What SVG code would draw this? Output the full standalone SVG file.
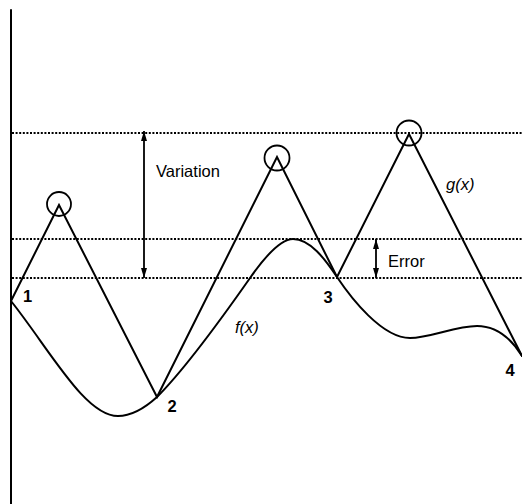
<svg xmlns="http://www.w3.org/2000/svg" width="522" height="504" viewBox="0 0 522 504">
<defs>
<style>
.ln{fill:none;stroke:#000;stroke-width:2;stroke-linejoin:miter;stroke-linecap:round}
.dot{fill:none;stroke:#000;stroke-width:2;stroke-dasharray:2 1.6}
.circ{fill:none;stroke:#000;stroke-width:1.8}
.lbl{font-family:"Liberation Sans",Arial,sans-serif;font-size:16.5px;fill:#000}
.it{font-style:italic}
.num{font-weight:bold}
.arr{fill:none;stroke:#000;stroke-width:1.8}
</style>
<marker id="ah" viewBox="0 0 10 6" refX="10" refY="3" markerWidth="10" markerHeight="6" markerUnits="userSpaceOnUse" orient="auto">
<path d="M0,0 L10,3 L0,6 Z" fill="#000"/>
</marker>
</defs>
<rect width="522" height="504" fill="#fff"/>
<g id="axis">
<line class="ln" x1="11" y1="10" x2="11" y2="504"/>
</g>
<g id="levels">
<line class="dot" x1="12" y1="133" x2="522" y2="133"/>
<line class="dot" x1="12" y1="239" x2="522" y2="239"/>
<line class="dot" x1="12" y1="278" x2="522" y2="278"/>
</g>
<g id="connectors">
<path id="g-curve" class="ln" d="M11,301 L59,205 L157,397 L277,157 L337,277 L409,134 L522,356"/>
<path id="f-curve" class="ln" d="M11,301 C50,350 85,416 118,416 C133,416 146,407 157,397 C187,367 222,318 250,278 C264,258 280,239 293,239 C310,239 325,259 337,277 C351,298 382,338 410,338 C430,338 455,326 477,326 C497,326 512,340 522,356"/>
<line class="arr" x1="144" y1="205" x2="144" y2="131" marker-end="url(#ah)"/>
<line class="arr" x1="144" y1="205" x2="144" y2="278" marker-end="url(#ah)"/>
<line class="arr" x1="376" y1="258" x2="376" y2="239" marker-end="url(#ah)"/>
<line class="arr" x1="376" y1="258" x2="376" y2="278" marker-end="url(#ah)"/>
</g>
<g id="peak1"><circle class="circ" cx="59" cy="204" r="12"/></g>
<g id="peak2"><circle class="circ" cx="277" cy="158" r="12.5"/></g>
<g id="peak3"><circle class="circ" cx="409" cy="133" r="12.5"/></g>
<g id="labels">
<text class="lbl" x="156" y="177">Variation</text>
<text class="lbl" x="388" y="266.5">Error</text>
<text class="lbl it" x="446" y="190">g(x)</text>
<text class="lbl it" x="235" y="333">f(x)</text>
<text class="lbl num" x="23" y="302">1</text>
<text class="lbl num" x="167.5" y="412">2</text>
<text class="lbl num" x="323.5" y="302.5">3</text>
<text class="lbl num" x="505.5" y="376">4</text>
</g>
</svg>
